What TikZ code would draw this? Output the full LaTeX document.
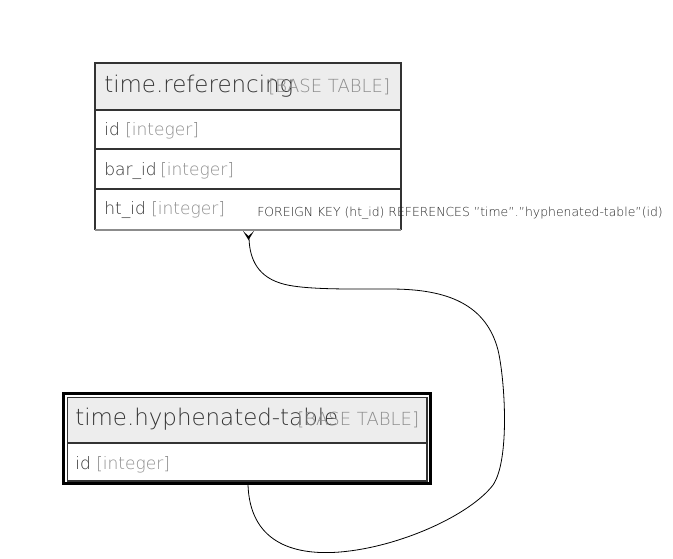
\documentclass[tikz,border=0pt]{standalone}
\usepackage{fontspec}
\setmainfont{DejaVu Sans ExtraLight}
\begin{document}
\begin{tikzpicture}[x=0.75pt,y=-0.75pt,
  titletxt/.style={anchor=base west,inner sep=0pt,text=black!80,font=\fontsize{17.2}{19}\selectfont},
  tagtxt/.style={anchor=base west,inner sep=0pt,text=black!45,font=\fontsize{13.5}{15}\selectfont},
  coltxt/.style={anchor=base west,inner sep=0pt,text=black!80,font=\fontsize{12.8}{14}\selectfont},
  typetxt/.style={anchor=base west,inner sep=0pt,text=black!45,font=\fontsize{12.8}{14}\selectfont},
  lbltxt/.style={anchor=base west,inner sep=0pt,text=black!85,font=\fontsize{9.3}{11}\selectfont},
  sep/.style={draw=black!80,line width=1.5pt},
  edge/.style={draw=black,line width=0.6pt}]
\useasboundingbox (0,0) rectangle (673,558);
% ---- top table
\fill[black!7] (95,63) rectangle (401,110);
\draw[black!80,line width=0.8pt] (95,230) -- (95,63) -- (401,63) -- (401,230);
\draw[black!45,line width=1.5pt] (95,230) -- (401,230);
\draw[sep] (95,110) -- (401,110);
\draw[sep] (95,149) -- (401,149);
\draw[sep] (95,189) -- (401,189);
\node[titletxt] (t1) at (104,92) {time.referencing};
\node[tagtxt] (t1tag) at (268,92) {[BASE TABLE]};
\node[coltxt] (c1) at (104,135) {id};
\node[typetxt] (c1t) at (125,135) {[integer]};
\node[coltxt] (c2) at (104,175) {bar\_id};
\node[typetxt] (c2t) at (160,175) {[integer]};
\node[coltxt] (c3) at (104,214) {ht\_id};
\node[typetxt] (c3t) at (151,214) {[integer]};
\node[lbltxt] (lbl) at (257,216) {FOREIGN KEY (ht\_id) REFERENCES "time"."hyphenated-table"(id)};
% ---- bottom table
\fill[black!7] (67.5,397.5) rectangle (427,443);
\draw[black,line width=2.4pt] (63.8,393.8) rectangle (430.2,483.8);
\draw[black!80,line width=0.8pt] (67.5,397.5) rectangle (427,481);
\draw[sep] (67.5,443) -- (427,443);
\node[titletxt] (t2) at (75,425) {time.hyphenated-table};
\node[tagtxt] (t2tag) at (297,425) {[BASE TABLE]};
\node[coltxt] (d1) at (75,469) {id};
\node[typetxt] (d1t) at (96,469) {[integer]};
% ---- edge
\coordinate (src) at (248,485);
\coordinate (dst) at (249,236);
\draw[edge] (src) .. controls (250,540) and (290,556) .. (340,552)
  .. controls (400,547) and (470,515) .. (493,485)
  .. controls (510,460) and (505,380) .. (498,350)
  .. controls (485,300) and (440,289) .. (390,289)
  .. controls (350,289) and (300,290) .. (280,283)
  .. controls (255,275) and (249,255) .. (dst);
\fill[black] (243,231) -- (248.5,240) -- (254,231) -- (248.5,236) -- cycle;
\end{tikzpicture}
\end{document}
